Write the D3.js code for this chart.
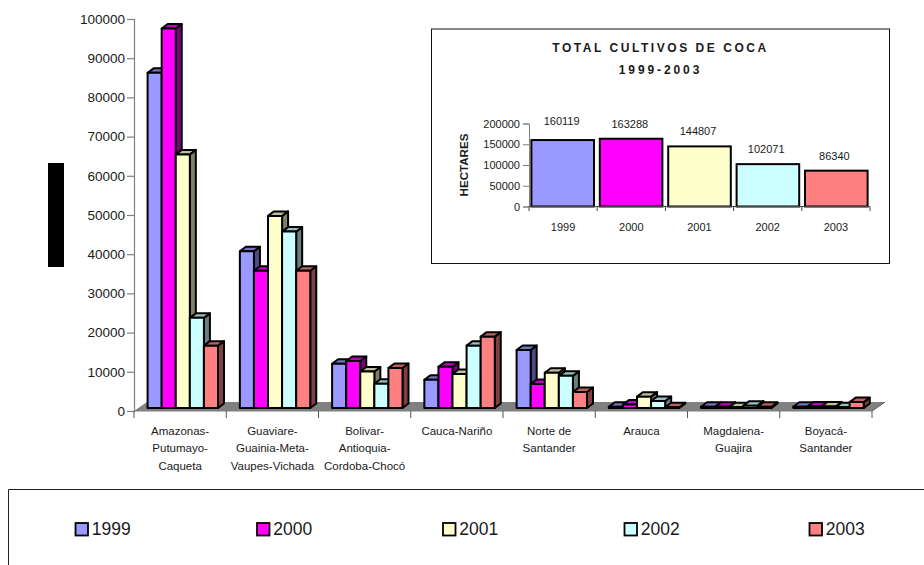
<!DOCTYPE html>
<html><head><meta charset="utf-8">
<script src="https://cdn.jsdelivr.net/npm/d3@7/dist/d3.min.js"></script>
<style>html,body{margin:0;padding:0;background:#fff}text{font-family:"Liberation Sans",Arial,sans-serif;fill:#1a1a1a}</style>
</head><body><svg id="c" width="924" height="565" style="display:block"></svg>
<script>
const regions = ["Amazonas-|Putumayo-|Caqueta","Guaviare-|Guainia-Meta-|Vaupes-Vichada","Bolivar-|Antioquia-|Cordoba-Chocó","Cauca-Nariño","Norte de|Santander","Arauca","Magdalena-|Guajira","Boyacá-|Santander"];
const years = ["1999","2000","2001","2002","2003"];
const v1999 = [85500,40000,11300,7200,14800,300,300,300];
const v2000 = [96800,35000,12000,10500,6100,900,300,400];
const v2001 = [64700,49000,9300,8700,9000,2900,200,400];
const v2002 = [23000,45000,6200,15900,8200,1800,600,200];
const v2003 = [15900,35000,10200,18200,4100,200,300,1500];
const totals = [160119,163288,144807,102071,86340];
const yTicks = [0,10000,20000,30000,40000,50000,60000,70000,80000,90000,100000];
const insetTicks = [0,50000,100000,150000,200000];
const front = ["#9999FF","#FF00FF","#FFFFCC","#CCFFFF","#FF8080"];
const side  = ["#4C4C80","#800080","#808066","#668080","#804040"];
const topc  = ["#7373BF","#BF00BF","#BFBF99","#99BFBF","#BF6060"];

const series = [v1999,v2000,v2001,v2002,v2003];
const svg = d3.select("#c");
const DX=6, DY=4.5, LIFT=3;

const x = d3.scaleBand().domain(regions).range([134,872]);
const inner = d3.scaleBand().domain(years).range([13.6,84]);
const y = d3.scaleLinear().domain([0,100000]).range([411,19]);

// floor
svg.append("polygon").attr("fill","#808080")
  .attr("points",[[134,411],[147,402],[885,402],[872,411]].join(" "));
svg.append("line").attr("x1",872).attr("y1",411).attr("x2",885).attr("y2",402).attr("stroke","#555");
// axes
const axL = d3.axisLeft(y).tickValues(yTicks).tickSize(7).tickPadding(2).tickFormat(d3.format("d"));
const gy = svg.append("g").attr("transform","translate(134,0)").call(axL);
gy.selectAll("path,line").attr("stroke","#808080").attr("stroke-width",1.2);
gy.selectAll("text").style("font-size","13.5px");
const axB = svg.append("g");
axB.append("line").attr("x1",134).attr("x2",872).attr("y1",411).attr("y2",411).attr("stroke","#808080");
axB.selectAll("line.t").data(d3.range(regions.length+1)).join("line").attr("class","t")
  .attr("x1",i=>134+i*x.bandwidth()).attr("x2",i=>134+i*x.bandwidth()).attr("y1",411).attr("y2",418).attr("stroke","#555");

// bars
regions.forEach((r,ri)=>{
  const g = svg.append("g");
  years.forEach((yr,si)=>{
    const x0 = x(r)+inner(yr), w = inner.bandwidth();
    const b = y(0)-LIFT, t = y(series[si][ri])-LIFT;
    const st = {stroke:"#000","stroke-width":2,"stroke-linejoin":"round"};
    const poly=(pts,f)=>{const p=g.append("polygon").attr("points",pts.join(" ")).attr("fill",f);
      Object.entries(st).forEach(([k,v])=>p.attr(k,v));};
    poly([[x0+w,t],[x0+w+DX,t-DY],[x0+w+DX,b-DY],[x0+w,b]],side[si]);
    poly([[x0,t],[x0+DX,t-DY],[x0+w+DX,t-DY],[x0+w,t]],topc[si]);
    poly([[x0,t],[x0+w,t],[x0+w,b],[x0,b]],front[si]);
  });
});
// category labels
regions.forEach(r=>{
  r.split("|").forEach((ln,i)=>{
    svg.append("text").attr("x",x(r)+x.bandwidth()/2).attr("y",434.7+i*17.7)
      .attr("text-anchor","middle").style("font-size","11.5px").text(ln);
  });
});

// redaction block
svg.append("rect").attr("x",48).attr("y",163).attr("width",16).attr("height",104).attr("fill","#000");

// inset
svg.append("rect").attr("x",431.5).attr("y",29).attr("width",458).attr("height",234.5).attr("fill","#fff").attr("stroke","#111");
svg.append("text").attr("x",660.5).attr("y",51.5).attr("text-anchor","middle").style("font-size","12px").style("font-weight","700").style("letter-spacing","2.55px").text("TOTAL CULTIVOS DE COCA");
svg.append("text").attr("x",660.5).attr("y",74).attr("text-anchor","middle").style("font-size","12px").style("font-weight","700").style("letter-spacing","2.9px").text("1999-2003");
const ix = d3.scaleBand().domain(years).range([529,870]).paddingInner(0.085).paddingOuter(0.035);
const iy = d3.scaleLinear().domain([0,200000]).range([206.5,123.5]);
const ig = svg.append("g");
years.forEach((yr,i)=>{
  ig.append("rect").attr("x",ix(yr)).attr("y",iy(totals[i])).attr("width",ix.bandwidth()).attr("height",iy(0)-iy(totals[i]))
    .attr("fill",front[i]).attr("stroke","#000").attr("stroke-width",2);
});
const iaxL = d3.axisLeft(iy).tickValues(insetTicks).tickSize(6).tickPadding(3).tickFormat(d3.format("d"));
const iga = svg.append("g").attr("transform","translate(529,0)").call(iaxL);
iga.selectAll("path,line").attr("stroke","#808080");
iga.selectAll("text").style("font-size","11px");
const band = 341/5;
svg.append("line").attr("x1",529).attr("x2",870).attr("y1",206.5).attr("y2",206.5).attr("stroke","#444");
d3.range(6).forEach(i=>svg.append("line").attr("x1",529+i*band).attr("x2",529+i*band).attr("y1",206.5).attr("y2",211).attr("stroke","#444"));
years.forEach((yr,i)=>{
  svg.append("text").attr("x",529+(i+.5)*band).attr("y",231).attr("text-anchor","middle").style("font-size","11px").text(yr);
  svg.append("text").attr("x",527.5+(i+.5)*band).attr("y",iy(totals[i])-(i===0?15:11)).attr("text-anchor","middle").style("font-size","11px").text(totals[i]);
});
svg.append("text").attr("transform","translate(468,165) rotate(-90)").attr("text-anchor","middle").style("font-size","11.6px").style("font-weight","700").text("HECTARES");

// legend
svg.append("path").attr("d","M8.5,565V489.5H924").attr("fill","none").attr("stroke","#222");
const lx=[75.5,257,443,624.5,809.5];
years.forEach((yr,i)=>{
  svg.append("rect").attr("x",lx[i]).attr("y",523).attr("width",12.5).attr("height",12.5).attr("fill",front[i]).attr("stroke","#000").attr("stroke-width",1.8);
  svg.append("text").attr("x",lx[i]+16.3).attr("y",534.5).style("font-size","17.5px").text(yr);
});
</script></body></html>
